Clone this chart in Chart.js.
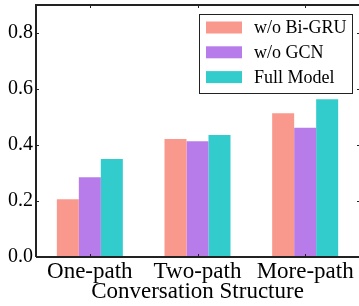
<!DOCTYPE html>
<html><head><meta charset="utf-8">
<script src="https://cdn.jsdelivr.net/npm/chart.js@4/dist/chart.umd.min.js"></script>
<style>html,body{margin:0;padding:0;background:#fff;overflow:hidden}</style>
</head><body>
<canvas id="c" width="359" height="306"></canvas>
<script>
const categories = ['One-path', 'Two-path', 'More-path'];
const seriesNames = ['w/o Bi-GRU', 'w/o GCN', 'Full Model'];
const woBiGRU = [0.206, 0.421, 0.513];
const woGCN = [0.285, 0.413, 0.462];
const fullModel = [0.350, 0.436, 0.563];
const yTicks = [0.0, 0.2, 0.4, 0.6, 0.8];
const yMax = 0.9;
const xTitle = 'Conversation Structure';
const colors = ['#F9988D', '#B77CE9', '#33CCCC'];

const FONT = '"Liberation Serif", "Times New Roman", serif';

const framePlugin = {
  id: 'frame',
  afterDraw(chart) {
    const ctx = chart.ctx, a = chart.chartArea;
    const xs = chart.scales.x, ys = chart.scales.y;
    const R = a.right + 3;
    ctx.save();
    ctx.strokeStyle = '#222';
    ctx.lineWidth = 2;
    ctx.beginPath();
    ctx.moveTo(a.left, a.bottom); ctx.lineTo(a.left, a.top);
    ctx.lineTo(R, a.top); ctx.lineTo(R, a.bottom); ctx.lineTo(a.left, a.bottom);
    ctx.stroke();
    ctx.lineWidth = 1;
    ctx.beginPath();
    const tl = 3;
    yTicks.forEach(v => {
      const y = Math.round(ys.getPixelForValue(v)) + 0.5;
      ctx.moveTo(a.left, y); ctx.lineTo(a.left + tl, y);
      ctx.moveTo(R, y); ctx.lineTo(a.right - 2, y);
    });
    categories.forEach((c, i) => {
      const x = Math.round(xs.getPixelForTick(i)) + 0.5;
      ctx.moveTo(x, a.bottom); ctx.lineTo(x, a.bottom - tl);
      ctx.moveTo(x, a.top); ctx.lineTo(x, a.top + tl);
    });
    ctx.stroke();

    // legend
    const bx = a.left + 163.5, by = a.top + 9.5, bw = 153, bh = 79;
    ctx.fillStyle = '#fff';
    ctx.fillRect(bx, by, bw, bh);
    ctx.strokeStyle = '#222';
    ctx.lineWidth = 1;
    ctx.strokeRect(bx, by, bw, bh);
    ctx.font = '18px ' + FONT;
    ctx.textBaseline = 'middle';
    ctx.textAlign = 'left';
    chart.data.datasets.forEach((ds, i) => {
      const cy = by + 13 + i * 24.8;
      ctx.fillStyle = ds.backgroundColor;
      ctx.fillRect(bx + 6.5, cy - 6, 36, 12);
      ctx.fillStyle = '#000';
      ctx.fillText(ds.label, bx + 54.5, cy + 1);
    });
    ctx.restore();
  }
};

new Chart(document.getElementById('c'), {
  type: 'bar',
  data: {
    labels: categories,
    datasets: [
      { label: seriesNames[0], data: woBiGRU, backgroundColor: colors[0] },
      { label: seriesNames[1], data: woGCN, backgroundColor: colors[1] },
      { label: seriesNames[2], data: fullModel, backgroundColor: colors[2] }
    ]
  },
  options: {
    responsive: false,
    animation: false,
    layout: { padding: { top: 5, right: 0, left: 0, bottom: 0 } },
    datasets: { bar: { categoryPercentage: 0.613, barPercentage: 1.0, borderWidth: 0 } },
    plugins: { legend: { display: false }, tooltip: { enabled: false } },
    scales: {
      x: {
        grid: { display: false, drawTicks: false },
        border: { display: false },
        ticks: { color: '#000', font: { family: FONT, size: 23 }, padding: 1, maxRotation: 0 },
        title: { display: true, text: xTitle, color: '#000', font: { family: FONT, size: 23 }, padding: { top: 0, bottom: 0 } },
        afterFit(s) { s.height = 49; s.paddingLeft = 0; s.paddingRight = 0; }
      },
      y: {
        min: 0, max: yMax,
        grid: { display: false, drawTicks: false },
        border: { display: false },
        afterBuildTicks(s) { s.ticks = yTicks.map(v => ({ value: v })); },
        ticks: { color: '#000', font: { family: FONT, size: 20 }, padding: 3, callback: v => Number(v).toFixed(1) },
        afterFit(s) { s.width = 36; s.paddingTop = 0; s.paddingBottom = 0; }
      }
    }
  },
  plugins: [framePlugin]
});
</script>
</body></html>
